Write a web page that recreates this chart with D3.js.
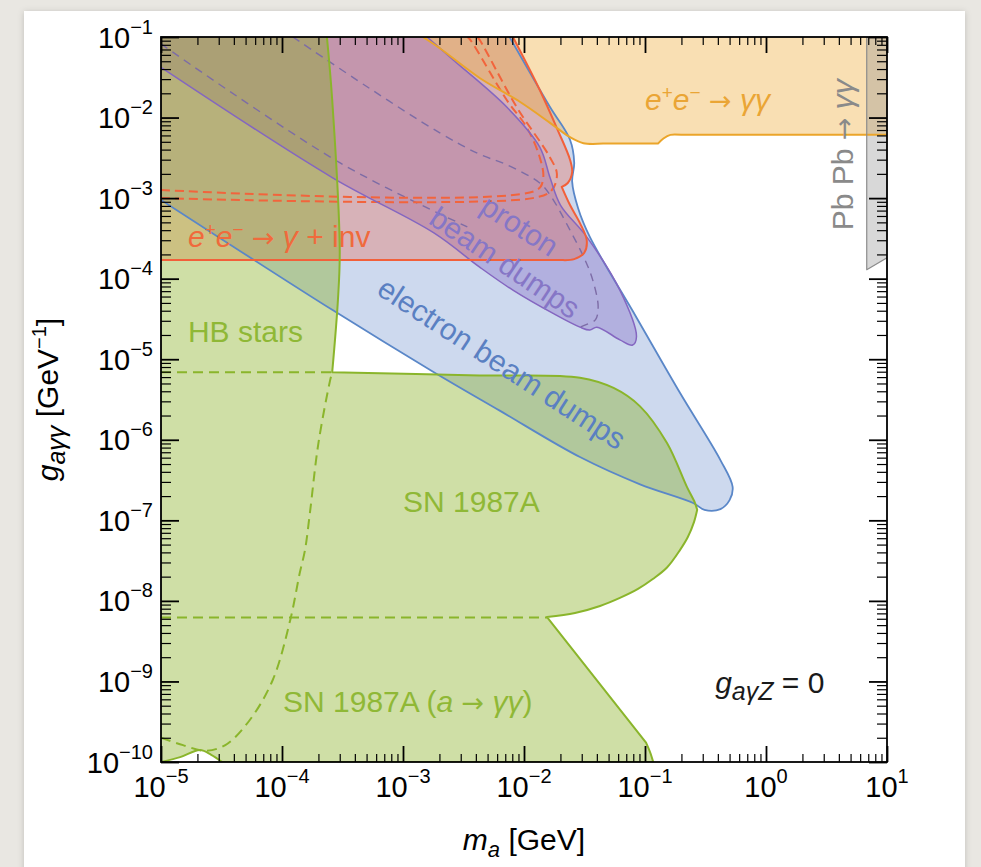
<!DOCTYPE html>
<html>
<head>
<meta charset="utf-8">
<script src="https://cdn.jsdelivr.net/npm/d3@7"></script>
<style>
  body { margin: 0; background: #e9e7e2; }
  svg { display: block; font-family: "Liberation Sans", Arial, Helvetica, sans-serif; }
</style>
</head>
<body>
<div id="chart"></div>
<script>
var width = 981,
  height = 867;

// axis decades
var xMajors = [1e-5, 1e-4, 1e-3, 1e-2, 1e-1, 1e0, 1e1];
var xExps = ["−5", "−4", "−3", "−2", "−1", "0", "1"];
var yMajors = [1e-10, 1e-9, 1e-8, 1e-7, 1e-6, 1e-5, 1e-4, 1e-3, 1e-2, 1e-1];
var yExps = ["−10", "−9", "−8", "−7", "−6", "−5", "−4", "−3", "−2", "−1"];

// Each edge is a list of smooth pieces [m_a, g]; pieces meet at sharp corners.
// HB stars + SN 1987A + SN 1987A (a -> yy)
var greenEdge = [
  [[2.35e-4, 1e-1], [2.6e-4, 1.65e-2], [3.0e-4, 2.3e-4], [2.9e-4, 5.5e-5], [2.6e-4, 6.9e-6]],
  [[2.6e-4, 6.9e-6], [4.3e-3, 6.3e-6], [2.9e-2, 5.9e-6], [5.5e-2, 4.4e-6], [9.1e-2, 2.6e-6],
   [0.152, 9.1e-7], [0.222, 2.6e-7], [0.259, 1.64e-7], [0.27, 1.35e-7]],
  [[0.27, 1.35e-7], [0.254, 9.5e-8], [0.226, 6.2e-8], [0.195, 4.3e-8], [0.152, 2.6e-8],
   [0.116, 1.87e-8], [8.75e-2, 1.41e-8], [6.2e-2, 1.09e-8], [4.25e-2, 8.65e-9],
   [2.64e-2, 7.08e-9], [1.55e-2, 6.3e-9]],
  [[1.55e-2, 6.3e-9], [0.102, 1.74e-10]],
  [[0.102, 1.74e-10], [0.11, 1.33e-10], [0.117, 1e-10]],
  [[0.117, 1e-10], [3.2e-5, 1e-10]],
  [[3.2e-5, 1e-10], [2.6e-5, 1.23e-10], [2.1e-5, 1.41e-10], [1.44e-5, 1.15e-10], [1e-5, 1e-10]]
];
var hbDashTop = [[1e-5, 6.9e-6], [2.6e-4, 6.9e-6]];
var snDashLow = [[1e-5, 6.2e-9], [1.55e-2, 6.2e-9]];
var hbDashCurve = [
  [1e-5, 2.0e-10], [1.52e-5, 1.62e-10], [2.3e-5, 1.38e-10], [3.4e-5, 1.62e-10], [5.4e-5, 3.3e-10],
  [8.4e-5, 1.05e-9], [1.17e-4, 5.8e-9], [1.4e-4, 2.2e-8], [1.55e-4, 4.3e-8], [1.7e-4, 1.23e-7],
  [2.0e-4, 9.1e-7], [2.5e-4, 5.5e-6], [2.6e-4, 6.9e-6]
];

// electron beam dumps
var blueEdge = [
  [[7.6e-3, 1e-1], [1.64e-2, 1.35e-2], [2.4e-2, 5.3e-3], [2.6e-2, 2.75e-3], [2.5e-2, 1.6e-3],
   [2.8e-2, 7.5e-4], [3.5e-2, 3.3e-4], [8.5e-2, 3.3e-5], [0.195, 3.8e-6], [0.42, 5.6e-7],
   [0.53, 2.6e-7], [0.50, 1.78e-7], [0.42, 1.38e-7], [0.31, 1.35e-7], [0.25, 1.64e-7],
   [9.1e-2, 2.8e-7], [2.9e-2, 6.1e-7], [6.3e-3, 2.3e-6], [1.8e-3, 6.9e-6], [2.6e-4, 4.1e-5],
   [1e-5, 9.5e-4]]
];

// proton beam dumps
var violetEdge = [
  [[1.58e-3, 1e-1], [2.6e-3, 5.2e-2], [7.2e-3, 1.35e-2], [1.35e-2, 4.3e-3], [1.64e-2, 1.8e-3],
   [2.0e-2, 8.2e-4], [3.3e-2, 3.3e-4], [6.2e-2, 7.2e-5], [8.5e-2, 1.9e-5], [7.9e-2, 1.5e-5],
   [6.2e-2, 1.74e-5], [4.0e-2, 2.5e-5], [3.5e-2, 2.3e-5], [2.9e-2, 2.5e-5], [1.74e-2, 3.7e-5],
   [8.1e-3, 7.2e-5], [4.3e-3, 1.39e-4], [1.8e-3, 3.7e-4], [2.6e-4, 1.8e-3], [1e-5, 4.2e-2]]
];
var violetDashA = [
  [1.23e-4, 1e-1], [5.3e-4, 2.3e-2], [2.0e-3, 6.5e-3], [4.3e-3, 3.5e-3], [7.2e-3, 2.6e-3],
  [1.35e-2, 1.54e-3], [1.64e-2, 1.1e-3], [2.4e-2, 4.0e-4], [3.2e-2, 1.7e-4], [3.7e-2, 9.6e-5],
  [4.1e-2, 4.5e-5], [3.9e-2, 3.1e-5], [3.3e-2, 2.7e-5], [2.9e-2, 2.5e-5]
];
var violetDashB = [[1e-5, 8.2e-2], [3.0e-4, 2.75e-3], [3.4e-3, 4.4e-4]];

// e+e- -> y + inv
var redEdge = [
  [[8.1e-3, 1e-1], [1.35e-2, 2.2e-2], [1.9e-2, 7.0e-3], [2.4e-2, 3.0e-3], [2.5e-2, 2.1e-3],
   [2.3e-2, 1.54e-3], [2.05e-2, 1.38e-3]],
  [[2.05e-2, 1.38e-3], [2.4e-2, 8.2e-4], [2.9e-2, 4.9e-4], [3.3e-2, 3.0e-4], [3.15e-2, 2.1e-4],
   [2.6e-2, 1.75e-4], [2.1e-2, 1.7e-4]],
  [[2.1e-2, 1.7e-4], [1e-5, 1.7e-4]]
];
var redDash1 = [
  [1e-5, 1.26e-3], [1.28e-2, 1.26e-3], [1.44e-2, 1.77e-3], [1.35e-2, 3.2e-3], [1.05e-2, 7.6e-3],
  [7.2e-3, 1.65e-2], [3.6e-3, 9.2e-2], [3.4e-3, 1e-1]
];
var redDash2 = [
  [1e-5, 1.0e-3], [1.18e-2, 1.0e-3], [1.7e-2, 1.26e-3], [1.87e-2, 2.0e-3], [1.64e-2, 3.2e-3],
  [8.7e-3, 1.35e-2], [4.3e-3, 9.2e-2], [4.1e-3, 1e-1]
];

// e+e- -> yy
var orangeEdge = [
  [[1.46e-3, 1e-1], [2.0e-3, 7.3e-2], [4.3e-3, 3.1e-2], [9.3e-3, 1.56e-2], [1.64e-2, 8.6e-3],
   [2.4e-2, 5.7e-3], [3.1e-2, 4.8e-3], [4.5e-2, 4.75e-3]],
  [[4.5e-2, 4.75e-3], [0.128, 4.75e-3]],
  [[0.128, 4.75e-3], [0.142, 5.5e-3], [0.162, 6.1e-3], [0.2, 6.1e-3]],
  [[0.2, 6.1e-3], [10, 6.1e-3]]
];

// Pb Pb -> yy
var pbEdge = [[[6.8, 1e-1], [6.8, 1.29e-4]], [[6.8, 1.29e-4], [10, 1.82e-4]]];

var svg = d3.select("#chart")
  .append("svg")
  .attr("width", width)
  .attr("height", height);

// paper panel
var defs = svg.append("defs");
var shadow = defs.append("filter").attr("id", "shadow")
  .attr("x", "-5%").attr("y", "-5%").attr("width", "110%").attr("height", "110%");
shadow.append("feDropShadow").attr("dx", 0).attr("dy", 1).attr("stdDeviation", 3)
  .attr("flood-color", "#000").attr("flood-opacity", 0.18);
svg.append("rect")
  .attr("x", 24).attr("y", 11).attr("width", 941).attr("height", 880)
  .attr("fill", "#fff")
  .attr("filter", "url(#shadow)");

var x = d3.scaleLog().domain([1e-5, 10]).range([161, 887]);
var y = d3.scaleLog().domain([1e-10, 1e-1]).range([762, 37]);

defs.append("clipPath").attr("id", "plot")
  .append("rect")
  .attr("x", 161).attr("y", 37)
  .attr("width", 887 - 161).attr("height", 762 - 37);

var smooth = d3.line()
  .x(function (d) { return x(d[0]); })
  .y(function (d) { return y(d[1]); })
  .curve(d3.curveCatmullRom.alpha(0.5));

function edgePath(pieces) {
  return pieces.map(function (s, i) {
    var p = smooth(s);
    return i ? "L" + p.slice(1) : p;
  }).join("");
}

function regionPath(pieces, corners) {
  return edgePath(pieces) + corners.map(function (c) {
    return "L" + x(c[0]) + "," + y(c[1]);
  }).join("") + "Z";
}

var plot = svg.append("g").attr("clip-path", "url(#plot)");

// fills; green drawn last like in the original
var regions = [
  { edge: blueEdge, corners: [[1e-5, 1e-1]], fill: "#5a82c8", op: 0.3, line: "#5a87c8", w: 1.8 },
  { edge: violetEdge, corners: [[1e-5, 1e-1]], fill: "#7a5ac0", op: 0.32, line: "#8466c0", w: 1.5 },
  { edge: redEdge, corners: [[1e-5, 1e-1]], fill: "#f05a3c", op: 0.3, line: "#f2603a", w: 2 },
  { edge: orangeEdge, corners: [[10, 1e-1]], fill: "#f0b040", op: 0.4, line: "#eba52a", w: 2 },
  { edge: pbEdge, corners: [[10, 1e-1]], fill: "#909090", op: 0.35, line: "#8c8c8c", w: 1.2 },
  { edge: greenEdge, corners: [[1e-5, 1e-1]], fill: "#86b020", op: 0.4, line: "#8ab52b", w: 2 }
];

plot.selectAll("path.region")
  .data(regions)
  .enter().append("path")
  .attr("class", "region")
  .attr("d", function (d) { return regionPath(d.edge, d.corners); })
  .attr("fill", function (d) { return d.fill; })
  .attr("fill-opacity", function (d) { return d.op; })
  .attr("stroke", "none");

// dashed contours
var dashes = [
  { pts: violetDashB, color: "#7d6ca6", w: 1.4, dash: "8,6" },
  { pts: violetDashA, color: "#7d6ca6", w: 1.4, dash: "8,6" },
  { pts: redDash1, color: "#f2643c", w: 2, dash: "9,5" },
  { pts: redDash2, color: "#f2643c", w: 2, dash: "9,5" },
  { pts: hbDashTop, color: "#8ab52b", w: 2, dash: "10,6" },
  { pts: snDashLow, color: "#8ab52b", w: 2, dash: "10,6" },
  { pts: hbDashCurve, color: "#8ab52b", w: 2, dash: "10,6" }
];
plot.selectAll("path.dash")
  .data(dashes)
  .enter().append("path")
  .attr("class", "dash")
  .attr("d", function (d) { return smooth(d.pts); })
  .attr("fill", "none")
  .attr("stroke", function (d) { return d.color; })
  .attr("stroke-width", function (d) { return d.w; })
  .attr("stroke-dasharray", function (d) { return d.dash; });

// solid outlines
plot.selectAll("path.outline")
  .data(regions)
  .enter().append("path")
  .attr("class", "outline")
  .attr("d", function (d) { return edgePath(d.edge); })
  .attr("fill", "none")
  .attr("stroke", function (d) { return d.line; })
  .attr("stroke-width", function (d) { return d.w; })
  .attr("stroke-linejoin", "round");

// text with sub/superscripts
function rich(sel, parts) {
  var cur = 0;
  parts.forEach(function (p) {
    var sh = p.sh || 0;
    var ts = sel.append("tspan").text(p.t).attr("dy", sh - cur);
    cur = sh;
    if (p.i) ts.attr("font-style", "italic");
    if (p.fs) ts.attr("font-size", p.fs);
    if (p.arrow) ts.attr("font-family", "DejaVu Sans").attr("font-size", 27);
  });
  return sel;
}

function label(pos, color, parts, angle, anchor) {
  var t = svg.append("text")
    .attr("font-size", 30)
    .attr("fill", color)
    .attr("text-anchor", anchor || "start");
  if (angle) {
    t.attr("transform", "translate(" + x(pos[0]) + "," + y(pos[1]) + ") rotate(" + angle + ")")
      .attr("dominant-baseline", "central");
  } else {
    t.attr("x", x(pos[0])).attr("y", y(pos[1]));
  }
  return rich(t, parts);
}

label([0.1, 1.24e-2], "#eaa535", [
  { t: "e", i: 1 }, { t: "+", sh: -11, fs: 19 }, { t: "e", i: 1 }, { t: "−", sh: -11, fs: 19 },
  { t: " " }, { t: "→", arrow: 1 }, { t: " " }, { t: "γγ", i: 1 }
]);
label([1.67e-5, 2.47e-4], "#f06a3c", [
  { t: "e", i: 1 }, { t: "+", sh: -11, fs: 19 }, { t: "e", i: 1 }, { t: "−", sh: -11, fs: 19 },
  { t: " " }, { t: "→", arrow: 1 }, { t: " " }, { t: "γ", i: 1 }, { t: " + inv" }
]);
label([9.3e-3, 4.6e-4], "#8676c6", [{ t: "proton" }], 33, "middle");
label([7.0e-3, 1.6e-4], "#8676c6", [{ t: "beam dumps" }], 34, "middle");
label([6.6e-3, 9.0e-6], "#5a80c2", [{ t: "electron beam dumps" }], 33, "middle");
label([1.67e-5, 1.64e-5], "#8fb836", [{ t: "HB stars" }]);
label([1e-3, 1.27e-7], "#8fb836", [{ t: "SN 1987A" }]);
label([1.02e-4, 4.2e-10], "#8fb836", [
  { t: "SN 1987A (" }, { t: "a", i: 1 }, { t: " " }, { t: "→", arrow: 1 }, { t: " " },
  { t: "γγ", i: 1 }, { t: ")" }
]);
label([0.38, 7.2e-10], "#1a1a1a", [
  { t: "g", i: 1 }, { t: "aγZ", i: 1, sh: 7, fs: 25 }, { t: " = 0" }
]);

// Pb Pb -> yy, reading upwards
var pb = svg.append("text")
  .attr("transform", "translate(" + (x(5.2)) + "," + y(4.0e-4) + ") rotate(-90)")
  .attr("font-size", 30)
  .attr("fill", "#8a8a8a");
rich(pb, [{ t: "Pb Pb " }, { t: "→", arrow: 1 }, { t: " " }, { t: "γγ", i: 1 }]);

// frame ticks, pointing inward on all four sides
function minorTicks(lo, hi) {
  var t = [];
  for (var e = lo; e < hi; e++) {
    for (var k = 2; k <= 9; k++) t.push(k * Math.pow(10, e));
  }
  return t;
}
var xMinors = minorTicks(-5, 1);
var yMinors = minorTicks(-10, -1);

function addAxis(axisFn, scale, majors, minors, transform, majLen, minLen) {
  var g = svg.append("g").attr("transform", transform);
  g.append("g").call(axisFn(scale).tickValues(minors).tickSizeInner(-minLen).tickSizeOuter(0).tickFormat(""));
  g.append("g").attr("class", "major")
    .call(axisFn(scale).tickValues(majors).tickSizeInner(-majLen).tickSizeOuter(0).tickFormat(""));
  g.selectAll(".domain").remove();
  g.selectAll("line").attr("stroke", "#000").attr("stroke-width", 1.2);
  g.selectAll(".major line").attr("stroke-width", 1.8);
}
addAxis(d3.axisBottom, x, xMajors, xMinors, "translate(0,762)", 16, 8);
addAxis(d3.axisTop, x, xMajors, xMinors, "translate(0,37)", 16, 8);
addAxis(d3.axisLeft, y, yMajors, yMinors, "translate(161,0)", 18, 10);
addAxis(d3.axisRight, y, yMajors, yMinors, "translate(887,0)", 18, 10);

svg.append("rect")
  .attr("x", 161).attr("y", 37)
  .attr("width", 887 - 161).attr("height", 762 - 37)
  .attr("fill", "none")
  .attr("stroke", "#000")
  .attr("stroke-width", 1.8);

// tick labels 10^n
xMajors.forEach(function (v, i) {
  var t = svg.append("text")
    .attr("x", x(v)).attr("y", 797)
    .attr("text-anchor", "middle")
    .attr("font-size", 29)
    .attr("fill", "#000");
  rich(t, [{ t: "10" }, { t: xExps[i], sh: -14, fs: 20 }]);
});
yMajors.forEach(function (v, i) {
  var t = svg.append("text")
    .attr("x", 153).attr("y", y(v) + 10.5)
    .attr("text-anchor", "end")
    .attr("font-size", 29)
    .attr("fill", "#000");
  rich(t, [{ t: "10" }, { t: yExps[i], sh: -14, fs: 20 }]);
});

// axis titles
var xt = svg.append("text")
  .attr("x", (161 + 887) / 2).attr("y", 850)
  .attr("text-anchor", "middle")
  .attr("font-size", 30)
  .attr("fill", "#000");
rich(xt, [{ t: "m", i: 1 }, { t: "a", i: 1, sh: 7, fs: 22 }, { t: " [GeV]" }]);

var yt = svg.append("text")
  .attr("transform", "translate(58," + ((37 + 762) / 2) + ") rotate(-90)")
  .attr("text-anchor", "middle")
  .attr("font-size", 30)
  .attr("fill", "#000");
rich(yt, [
  { t: "g", i: 1 }, { t: "aγγ", i: 1, sh: 7, fs: 25 }, { t: " [GeV" },
  { t: "−1", sh: -12, fs: 20 }, { t: "]" }
]);
</script>
</body>
</html>
